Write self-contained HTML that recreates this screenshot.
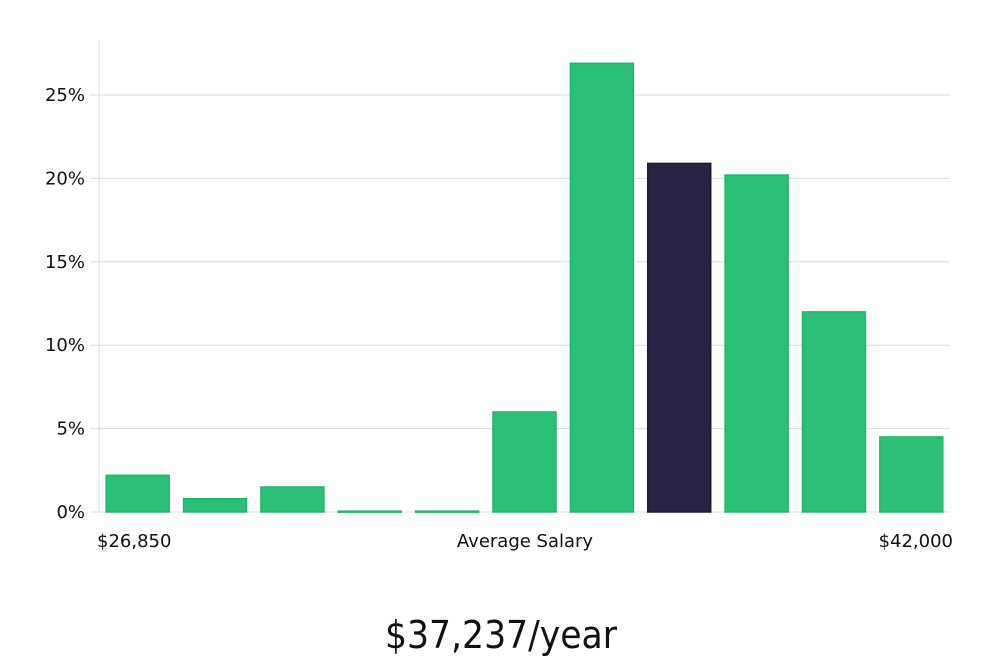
<!DOCTYPE html>
<html><head><meta charset="utf-8"><style>
html,body{margin:0;padding:0;background:#fff;}
svg{display:block;font-family:"DejaVu Sans","Liberation Sans",sans-serif;}
</style></head><body>
<svg id="chart" width="1000" height="660" viewBox="0 0 1000 660">
<g id="grid"></g>
<g id="bars"></g>
<g id="yaxis"></g>
<text x="97" y="547" font-size="18" fill="#111">$26,850</text>
<text x="525" y="547" font-size="18" fill="#111" text-anchor="middle">Average Salary</text>
<text x="953" y="547" font-size="18" fill="#111" text-anchor="end">$42,000</text>
<text x="501" y="648" font-size="38" fill="#111" text-anchor="middle" textLength="232" lengthAdjust="spacingAndGlyphs" font-family="'DejaVu Sans Condensed','DejaVu Sans',sans-serif" font-weight="300">$37,237/year</text>
</svg>
<script>
const categories = ["b1","b2","b3","b4","b5","b6","b7","b8","b9","b10","b11"];
const values = [2.2,0.8,1.5,0.05,0.05,6.0,26.9,20.9,20.2,12.0,4.5];
const highlightIndex = [7];
const yTicks = [0,5,10,15,20,25];
const yTickLabels = ["0%","5%","10%","15%","20%","25%"];

const NS="http://www.w3.org/2000/svg";
const x0=99,x1=950,yBase=512,pxPer=(512-95)/25;
const band=(x1-x0)/categories.length, bw=63;
const y=v=>yBase-v*pxPer;
const xb=i=>x0+band*i+(band-bw)/2;
function mk(tag,attrs,parent){const e=document.createElementNS(NS,tag);for(const k in attrs)e.setAttribute(k,attrs[k]);parent.appendChild(e);return e;}
const grid=document.getElementById('grid'),bars=document.getElementById('bars'),ya=document.getElementById('yaxis');
yTicks.forEach((t,i)=>{
  const l=mk('line',{x1:90,x2:x1,y1:y(t),y2:y(t),stroke:'#dcdcdc','stroke-width':1},grid);
  
  
  const tx=mk('text',{x:85,y:y(t)+6,'font-size':18,fill:'#111','text-anchor':'end'},ya);
  tx.textContent=yTickLabels[i];
  
  
});
const ax=mk('line',{x1:x0,x2:x0,y1:40,y2:yBase,stroke:'#dcdcdc','stroke-width':1},ya);


values.forEach((v,i)=>{
  const hi=highlightIndex.includes(i);
  const r=mk('rect',{x:xb(i),y:y(v),width:bw,height:Math.max(yBase-y(v),1),fill:hi?'#272443':'#2bbf77',stroke:hi?'#1c1a38':'#22b56d','stroke-width':1.5},bars);
  
  
});
</script>
</body></html>
